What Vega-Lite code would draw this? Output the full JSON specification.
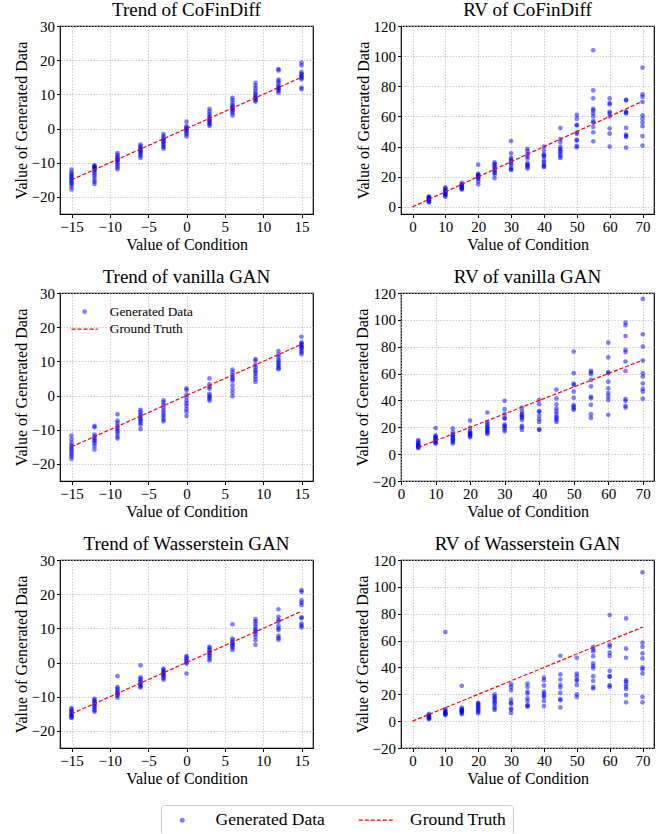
{
  "$schema": "https://vega.github.io/schema/vega-lite/v6.json",
  "padding": {"left": 12, "top": 0, "right": 8, "bottom": 0},
  "config": {
    "font": "Liberation Serif",
    "view": {"stroke": "black", "strokeWidth": 1.2},
    "axis": {
      "labelFont": "Liberation Serif", "labelFontSize": 15, "labelColor": "black",
      "titleFont": "Liberation Serif", "titleFontSize": 16, "titleFontWeight": "normal", "titleColor": "black",
      "domain": false, "tickColor": "black", "tickSize": 3.5, "tickWidth": 1,
      "gridColor": "#c0c0c0", "gridDash": [1.5, 1.5], "gridWidth": 0.8,
      "labelPadding": 2, "labelFlush": false, "labelOverlap": false, "titlePadding": 2, "tickCount": 30
    },
    "title": {"font": "Liberation Serif", "fontSize": 19, "fontWeight": "normal", "color": "black", "offset": -1},
    "legend": {"labelFont": "Liberation Serif", "labelColor": "black"}
  },
  "datasets": {
    "gt_trend": [{"c": -15, "v": -15}, {"c": 15, "v": 15}],
    "gt_rv": [{"c": 0, "v": 0}, {"c": 70, "v": 70}],
    "gt_rv5": [{"c": 5, "v": 5}, {"c": 70, "v": 70}],
    "t1": [
      {"c":-15,"v":-12},{"c":-15,"v":-12.8},{"c":-15,"v":-13.3},{"c":-15,"v":-13.8},{"c":-15,"v":-14.2},{"c":-15,"v":-14.6},{"c":-15,"v":-15},{"c":-15,"v":-15.4},{"c":-15,"v":-15.9},{"c":-15,"v":-16.3},{"c":-15,"v":-17},{"c":-15,"v":-17.8},
      {"c":-12,"v":-10.8},{"c":-12,"v":-11},{"c":-12,"v":-11.2},{"c":-12,"v":-11.5},{"c":-12,"v":-11.8},{"c":-12,"v":-12},{"c":-12,"v":-12.5},{"c":-12,"v":-13},{"c":-12,"v":-13.6},{"c":-12,"v":-14.2},{"c":-12,"v":-15},{"c":-12,"v":-15.6},{"c":-12,"v":-16.2},
      {"c":-9,"v":-7.2},{"c":-9,"v":-7.8},{"c":-9,"v":-8.3},{"c":-9,"v":-8.7},{"c":-9,"v":-9},{"c":-9,"v":-9.3},{"c":-9,"v":-9.7},{"c":-9,"v":-10.2},{"c":-9,"v":-10.8},{"c":-9,"v":-11.3},{"c":-9,"v":-11.9},
      {"c":-6,"v":-4.7},{"c":-6,"v":-5.2},{"c":-6,"v":-5.6},{"c":-6,"v":-6},{"c":-6,"v":-6.3},{"c":-6,"v":-6.7},{"c":-6,"v":-7},{"c":-6,"v":-7.5},{"c":-6,"v":-8},{"c":-6,"v":-8.6},
      {"c":-3,"v":-1.6},{"c":-3,"v":-2.2},{"c":-3,"v":-2.8},{"c":-3,"v":-3.2},{"c":-3,"v":-3.6},{"c":-3,"v":-4},{"c":-3,"v":-4.4},{"c":-3,"v":-4.9},{"c":-3,"v":-5.4},{"c":-3,"v":-5.9},
      {"c":0,"v":2},{"c":0,"v":0.7},{"c":0,"v":0.3},{"c":0,"v":0},{"c":0,"v":-0.3},{"c":0,"v":-0.7},{"c":0,"v":-1.2},{"c":0,"v":-1.7},{"c":0,"v":-2.3},
      {"c":3,"v":5.8},{"c":3,"v":5},{"c":3,"v":4.3},{"c":3,"v":3.7},{"c":3,"v":3.2},{"c":3,"v":2.8},{"c":3,"v":2.4},{"c":3,"v":2},{"c":3,"v":1.6},{"c":3,"v":1.2},{"c":3,"v":0.8},
      {"c":6,"v":9},{"c":6,"v":8.3},{"c":6,"v":7.5},{"c":6,"v":6.8},{"c":6,"v":6.4},{"c":6,"v":6.1},{"c":6,"v":5.8},{"c":6,"v":5.5},{"c":6,"v":5},{"c":6,"v":4.5},{"c":6,"v":3.8},
      {"c":9,"v":13.4},{"c":9,"v":12.6},{"c":9,"v":11.8},{"c":9,"v":11},{"c":9,"v":10.3},{"c":9,"v":9.8},{"c":9,"v":9.3},{"c":9,"v":9},{"c":9,"v":8.7},{"c":9,"v":8.3},{"c":9,"v":7.9},
      {"c":12,"v":17.4},{"c":12,"v":17},{"c":12,"v":14.3},{"c":12,"v":13.8},{"c":12,"v":13.2},{"c":12,"v":12.5},{"c":12,"v":12},{"c":12,"v":11.8},{"c":12,"v":11.4},{"c":12,"v":11},{"c":12,"v":10.5},
      {"c":15,"v":19.3},{"c":15,"v":18.5},{"c":15,"v":16.5},{"c":15,"v":16},{"c":15,"v":15.6},{"c":15,"v":15.2},{"c":15,"v":14.8},{"c":15,"v":14.4},{"c":15,"v":12},{"c":15,"v":11.5}
    ],
    "r1": [
      {"c":5,"v":3},{"c":5,"v":3.5},{"c":5,"v":4},{"c":5,"v":4.5},{"c":5,"v":5},{"c":5,"v":5.3},{"c":5,"v":5.6},{"c":5,"v":6},{"c":5,"v":6.5},{"c":5,"v":7},
      {"c":10,"v":6.8},{"c":10,"v":7.5},{"c":10,"v":8.2},{"c":10,"v":8.8},{"c":10,"v":9.3},{"c":10,"v":10},{"c":10,"v":10.6},{"c":10,"v":11.3},{"c":10,"v":12.2},{"c":10,"v":13},
      {"c":15,"v":11.5},{"c":15,"v":12},{"c":15,"v":12.5},{"c":15,"v":13},{"c":15,"v":13.5},{"c":15,"v":14},{"c":15,"v":14.5},{"c":15,"v":15},{"c":15,"v":16},
      {"c":20,"v":15},{"c":20,"v":17},{"c":20,"v":18.5},{"c":20,"v":19.5},{"c":20,"v":20},{"c":20,"v":20.5},{"c":20,"v":21},{"c":20,"v":21.5},{"c":20,"v":22},{"c":20,"v":28},
      {"c":25,"v":19},{"c":25,"v":21.5},{"c":25,"v":22.5},{"c":25,"v":23.5},{"c":25,"v":24.5},{"c":25,"v":25.5},{"c":25,"v":26.5},{"c":25,"v":27.5},{"c":25,"v":28.5},{"c":25,"v":29.5},
      {"c":30,"v":43.7},{"c":30,"v":35.5},{"c":30,"v":32.5},{"c":30,"v":31.5},{"c":30,"v":30.5},{"c":30,"v":29},{"c":30,"v":28},{"c":30,"v":26},{"c":30,"v":25},{"c":30,"v":24.5},
      {"c":35,"v":38.5},{"c":35,"v":37},{"c":35,"v":35},{"c":35,"v":33.5},{"c":35,"v":32},{"c":35,"v":29},{"c":35,"v":28},{"c":35,"v":27.5},{"c":35,"v":26.5},{"c":35,"v":25.5},
      {"c":40,"v":40},{"c":40,"v":37.5},{"c":40,"v":35},{"c":40,"v":34},{"c":40,"v":33.5},{"c":40,"v":31},{"c":40,"v":29.5},{"c":40,"v":28},{"c":40,"v":27},{"c":40,"v":26.5},
      {"c":45,"v":52.3},{"c":45,"v":45},{"c":45,"v":43},{"c":45,"v":40},{"c":45,"v":38.5},{"c":45,"v":37.5},{"c":45,"v":36.5},{"c":45,"v":35},{"c":45,"v":33.5},{"c":45,"v":32.5},
      {"c":50,"v":61},{"c":50,"v":58.5},{"c":50,"v":54.5},{"c":50,"v":54},{"c":50,"v":49.5},{"c":50,"v":48.5},{"c":50,"v":44.5},{"c":50,"v":44},{"c":50,"v":40.5},{"c":50,"v":39.5},
      {"c":55,"v":103.9},{"c":55,"v":77.3},{"c":55,"v":72},{"c":55,"v":65},{"c":55,"v":64},{"c":55,"v":62},{"c":55,"v":60},{"c":55,"v":57},{"c":55,"v":56},{"c":55,"v":53},{"c":55,"v":49.5},{"c":55,"v":43.5},
      {"c":60,"v":72},{"c":60,"v":69},{"c":60,"v":68},{"c":60,"v":63},{"c":60,"v":62},{"c":60,"v":60},{"c":60,"v":52},{"c":60,"v":48.6},{"c":60,"v":40},
      {"c":65,"v":71},{"c":65,"v":70.7},{"c":65,"v":63.4},{"c":65,"v":62.5},{"c":65,"v":62},{"c":65,"v":52.4},{"c":65,"v":48},{"c":65,"v":47},{"c":65,"v":46.4},{"c":65,"v":39.3},
      {"c":70,"v":92.4},{"c":70,"v":74.7},{"c":70,"v":73},{"c":70,"v":69.6},{"c":70,"v":60.8},{"c":70,"v":58.5},{"c":70,"v":56},{"c":70,"v":53.5},{"c":70,"v":47},{"c":70,"v":40.7}
    ],
    "t2": [
      {"c":-15,"v":-11.7},{"c":-15,"v":-12.8},{"c":-15,"v":-13.8},{"c":-15,"v":-14.5},{"c":-15,"v":-15},{"c":-15,"v":-15.5},{"c":-15,"v":-16},{"c":-15,"v":-16.6},{"c":-15,"v":-17.2},{"c":-15,"v":-17.8},{"c":-15,"v":-18.5},
      {"c":-12,"v":-8.9},{"c":-12,"v":-9.3},{"c":-12,"v":-11.4},{"c":-12,"v":-12},{"c":-12,"v":-12.5},{"c":-12,"v":-13},{"c":-12,"v":-13.4},{"c":-12,"v":-14},{"c":-12,"v":-14.8},{"c":-12,"v":-15.8},
      {"c":-9,"v":-5.5},{"c":-9,"v":-7.3},{"c":-9,"v":-8},{"c":-9,"v":-8.8},{"c":-9,"v":-9.4},{"c":-9,"v":-10},{"c":-9,"v":-10.5},{"c":-9,"v":-11.2},{"c":-9,"v":-12},{"c":-9,"v":-12.6},
      {"c":-6,"v":-4.2},{"c":-6,"v":-4.8},{"c":-6,"v":-5.5},{"c":-6,"v":-6},{"c":-6,"v":-6.5},{"c":-6,"v":-7},{"c":-6,"v":-7.4},{"c":-6,"v":-8},{"c":-6,"v":-8.6},{"c":-6,"v":-9.8},
      {"c":-3,"v":-1.4},{"c":-3,"v":-2},{"c":-3,"v":-2.8},{"c":-3,"v":-3.5},{"c":-3,"v":-4.3},{"c":-3,"v":-5},{"c":-3,"v":-5.7},{"c":-3,"v":-6.3},{"c":-3,"v":-7},{"c":-3,"v":-7.6},
      {"c":0,"v":2.1},{"c":0,"v":1.6},{"c":0,"v":0.3},{"c":0,"v":-0.5},{"c":0,"v":-1.5},{"c":0,"v":-2.3},{"c":0,"v":-3},{"c":0,"v":-4},{"c":0,"v":-4.8},{"c":0,"v":-6},
      {"c":3,"v":5},{"c":3,"v":3.3},{"c":3,"v":2.5},{"c":3,"v":2},{"c":3,"v":0.5},{"c":3,"v":0},{"c":3,"v":-0.5},{"c":3,"v":-1},{"c":3,"v":-1.5},
      {"c":6,"v":7.6},{"c":6,"v":6.8},{"c":6,"v":6},{"c":6,"v":5.3},{"c":6,"v":4.8},{"c":6,"v":4.3},{"c":6,"v":3},{"c":6,"v":1.8},{"c":6,"v":0.8},{"c":6,"v":-0.2},
      {"c":9,"v":10.7},{"c":9,"v":10.2},{"c":9,"v":9},{"c":9,"v":8.3},{"c":9,"v":7.5},{"c":9,"v":7},{"c":9,"v":6.4},{"c":9,"v":5.6},{"c":9,"v":4.8},{"c":9,"v":4},
      {"c":12,"v":13},{"c":12,"v":12},{"c":12,"v":11.3},{"c":12,"v":10.5},{"c":12,"v":10},{"c":12,"v":9.5},{"c":12,"v":9},{"c":12,"v":8.5},{"c":12,"v":8},{"c":12,"v":7.7},
      {"c":15,"v":17.2},{"c":15,"v":15.6},{"c":15,"v":15.2},{"c":15,"v":14.8},{"c":15,"v":14.5},{"c":15,"v":14.1},{"c":15,"v":13.8},{"c":15,"v":13.2},{"c":15,"v":12.7},{"c":15,"v":12.1}
    ],
    "r2": [
      {"c":5,"v":4.5},{"c":5,"v":5},{"c":5,"v":5.5},{"c":5,"v":6},{"c":5,"v":6.5},{"c":5,"v":7},{"c":5,"v":7.5},{"c":5,"v":8.5},{"c":5,"v":9.5},{"c":5,"v":10.5},
      {"c":10,"v":19.4},{"c":10,"v":14},{"c":10,"v":13},{"c":10,"v":12.5},{"c":10,"v":11.5},{"c":10,"v":11},{"c":10,"v":10},{"c":10,"v":9.3},{"c":10,"v":8.5},{"c":10,"v":7.8},
      {"c":15,"v":19.3},{"c":15,"v":16.5},{"c":15,"v":15},{"c":15,"v":14},{"c":15,"v":13},{"c":15,"v":12},{"c":15,"v":11},{"c":15,"v":10},{"c":15,"v":9},{"c":15,"v":8},
      {"c":20,"v":25},{"c":20,"v":19.5},{"c":20,"v":17},{"c":20,"v":16},{"c":20,"v":15.5},{"c":20,"v":15},{"c":20,"v":14},{"c":20,"v":13.5},{"c":20,"v":12.5},
      {"c":25,"v":31},{"c":25,"v":24},{"c":25,"v":22.5},{"c":25,"v":21},{"c":25,"v":20},{"c":25,"v":19},{"c":25,"v":18},{"c":25,"v":17},{"c":25,"v":16},{"c":25,"v":15},
      {"c":30,"v":39.7},{"c":30,"v":33.5},{"c":30,"v":30},{"c":30,"v":27},{"c":30,"v":26.5},{"c":30,"v":22},{"c":30,"v":21},{"c":30,"v":20},{"c":30,"v":18.5},{"c":30,"v":17},
      {"c":35,"v":34.7},{"c":35,"v":32},{"c":35,"v":30},{"c":35,"v":29},{"c":35,"v":28},{"c":35,"v":27},{"c":35,"v":25.5},{"c":35,"v":21},{"c":35,"v":20},{"c":35,"v":18},
      {"c":40,"v":40.5},{"c":40,"v":37.2},{"c":40,"v":32},{"c":40,"v":31.5},{"c":40,"v":28.5},{"c":40,"v":26},{"c":40,"v":24},{"c":40,"v":18.5},{"c":40,"v":18},
      {"c":45,"v":48},{"c":45,"v":41.5},{"c":45,"v":37},{"c":45,"v":34},{"c":45,"v":32},{"c":45,"v":30},{"c":45,"v":28},{"c":45,"v":27},{"c":45,"v":25.5},{"c":45,"v":24},
      {"c":50,"v":76.4},{"c":50,"v":60.3},{"c":50,"v":52.5},{"c":50,"v":51.5},{"c":50,"v":46.6},{"c":50,"v":42},{"c":50,"v":36.5},{"c":50,"v":35.5},{"c":50,"v":34},{"c":50,"v":33},
      {"c":55,"v":62},{"c":55,"v":61},{"c":55,"v":59.5},{"c":55,"v":55.3},{"c":55,"v":50.4},{"c":55,"v":42.7},{"c":55,"v":41.7},{"c":55,"v":36.7},{"c":55,"v":29.8},{"c":55,"v":27},
      {"c":60,"v":83},{"c":60,"v":72},{"c":60,"v":61},{"c":60,"v":60.5},{"c":60,"v":54},{"c":60,"v":49},{"c":60,"v":45.4},{"c":60,"v":43},{"c":60,"v":40.4},{"c":60,"v":29.3},
      {"c":65,"v":98},{"c":65,"v":96},{"c":65,"v":88},{"c":65,"v":77.7},{"c":65,"v":76},{"c":65,"v":69},{"c":65,"v":62},{"c":65,"v":41},{"c":65,"v":39.7},{"c":65,"v":36},{"c":65,"v":34.7},
      {"c":70,"v":115.6},{"c":70,"v":89.3},{"c":70,"v":80},{"c":70,"v":69.7},{"c":70,"v":60.3},{"c":70,"v":57.8},{"c":70,"v":52.6},{"c":70,"v":48.6},{"c":70,"v":46.6},{"c":70,"v":41.2}
    ],
    "t3": [
      {"c":-15,"v":-13.3},{"c":-15,"v":-13.8},{"c":-15,"v":-14.2},{"c":-15,"v":-14.6},{"c":-15,"v":-15},{"c":-15,"v":-15.3},{"c":-15,"v":-15.6},{"c":-15,"v":-16},{"c":-15,"v":-16.2},
      {"c":-12,"v":-10.6},{"c":-12,"v":-11},{"c":-12,"v":-11.4},{"c":-12,"v":-11.8},{"c":-12,"v":-12.2},{"c":-12,"v":-12.6},{"c":-12,"v":-13},{"c":-12,"v":-13.5},{"c":-12,"v":-14},{"c":-12,"v":-14.4},
      {"c":-9,"v":-4},{"c":-9,"v":-7.2},{"c":-9,"v":-7.7},{"c":-9,"v":-8.2},{"c":-9,"v":-8.7},{"c":-9,"v":-9},{"c":-9,"v":-9.3},{"c":-9,"v":-9.7},{"c":-9,"v":-10.3},
      {"c":-6,"v":-0.8},{"c":-6,"v":-4.3},{"c":-6,"v":-4.8},{"c":-6,"v":-5.3},{"c":-6,"v":-5.8},{"c":-6,"v":-6.2},{"c":-6,"v":-6.6},{"c":-6,"v":-7},{"c":-6,"v":-7.3},
      {"c":-3,"v":-1.8},{"c":-3,"v":-2.2},{"c":-3,"v":-2.6},{"c":-3,"v":-3},{"c":-3,"v":-3.3},{"c":-3,"v":-3.7},{"c":-3,"v":-4.1},{"c":-3,"v":-4.6},{"c":-3,"v":-5},
      {"c":0,"v":1.9},{"c":0,"v":1.5},{"c":0,"v":1},{"c":0,"v":0.5},{"c":0,"v":0},{"c":0,"v":-0.3},{"c":0,"v":-3.2},
      {"c":3,"v":4.6},{"c":3,"v":4.2},{"c":3,"v":3.6},{"c":3,"v":3.2},{"c":3,"v":2.8},{"c":3,"v":2.3},{"c":3,"v":1.8},{"c":3,"v":1.2},{"c":3,"v":0.6},
      {"c":6,"v":11.2},{"c":6,"v":7},{"c":6,"v":6.5},{"c":6,"v":6},{"c":6,"v":5.6},{"c":6,"v":5.2},{"c":6,"v":4.8},{"c":6,"v":4.3},{"c":6,"v":3.7},
      {"c":9,"v":12.7},{"c":9,"v":12},{"c":9,"v":11.3},{"c":9,"v":10.5},{"c":9,"v":9.8},{"c":9,"v":9.3},{"c":9,"v":9},{"c":9,"v":8.3},{"c":9,"v":7.5},{"c":9,"v":6.5},{"c":9,"v":5.2},
      {"c":12,"v":15.6},{"c":12,"v":13.4},{"c":12,"v":12.5},{"c":12,"v":12},{"c":12,"v":10.8},{"c":12,"v":10},{"c":12,"v":9.5},{"c":12,"v":7.8},{"c":12,"v":7.2},{"c":12,"v":6.7},
      {"c":15,"v":21.2},{"c":15,"v":20.7},{"c":15,"v":18.2},{"c":15,"v":17.5},{"c":15,"v":16.8},{"c":15,"v":13.2},{"c":15,"v":13},{"c":15,"v":11.4},{"c":15,"v":10.8},{"c":15,"v":10.3}
    ],
    "r3": [
      {"c":5,"v":1.5},{"c":5,"v":2},{"c":5,"v":2.5},{"c":5,"v":3},{"c":5,"v":3.5},{"c":5,"v":4},{"c":5,"v":4.5},{"c":5,"v":5.5},
      {"c":10,"v":66.3},{"c":10,"v":9},{"c":10,"v":8},{"c":10,"v":7},{"c":10,"v":6.5},{"c":10,"v":6},{"c":10,"v":5.5},{"c":10,"v":5},{"c":10,"v":4.5},
      {"c":15,"v":26.3},{"c":15,"v":10},{"c":15,"v":9},{"c":15,"v":8.5},{"c":15,"v":8},{"c":15,"v":7.5},{"c":15,"v":7},{"c":15,"v":6},{"c":15,"v":5.2},
      {"c":20,"v":13.7},{"c":20,"v":13},{"c":20,"v":12},{"c":20,"v":11},{"c":20,"v":10},{"c":20,"v":9},{"c":20,"v":8},{"c":20,"v":7},{"c":20,"v":5.8},
      {"c":25,"v":20},{"c":25,"v":18.5},{"c":25,"v":17.5},{"c":25,"v":16.5},{"c":25,"v":15},{"c":25,"v":14},{"c":25,"v":13},{"c":25,"v":11},{"c":25,"v":9.5},{"c":25,"v":8.3},
      {"c":30,"v":27.5},{"c":30,"v":25.5},{"c":30,"v":23},{"c":30,"v":16},{"c":30,"v":13.5},{"c":30,"v":13},{"c":30,"v":9.5},{"c":30,"v":8.5},{"c":30,"v":6},
      {"c":35,"v":28},{"c":35,"v":25.5},{"c":35,"v":22},{"c":35,"v":20.5},{"c":35,"v":17},{"c":35,"v":15},{"c":35,"v":12},{"c":35,"v":11.5},{"c":35,"v":10.7},
      {"c":40,"v":32.5},{"c":40,"v":30.5},{"c":40,"v":26.5},{"c":40,"v":22},{"c":40,"v":20.5},{"c":40,"v":19},{"c":40,"v":18},{"c":40,"v":15},{"c":40,"v":11.2},
      {"c":45,"v":48.7},{"c":45,"v":34.8},{"c":45,"v":31},{"c":45,"v":27},{"c":45,"v":25},{"c":45,"v":21},{"c":45,"v":16.5},{"c":45,"v":15.5},{"c":45,"v":10.2},
      {"c":50,"v":47.2},{"c":50,"v":35.5},{"c":50,"v":33.5},{"c":50,"v":31},{"c":50,"v":30},{"c":50,"v":27},{"c":50,"v":20},{"c":50,"v":18},
      {"c":55,"v":55.4},{"c":55,"v":53.4},{"c":55,"v":52},{"c":55,"v":48.4},{"c":55,"v":43},{"c":55,"v":41},{"c":55,"v":39.3},{"c":55,"v":33.5},{"c":55,"v":30},{"c":55,"v":25.5},{"c":55,"v":24.3},
      {"c":60,"v":79},{"c":60,"v":57},{"c":60,"v":55.5},{"c":60,"v":51},{"c":60,"v":48.5},{"c":60,"v":37.5},{"c":60,"v":33.5},{"c":60,"v":33},{"c":60,"v":26.8},{"c":60,"v":25.5},
      {"c":65,"v":76.5},{"c":65,"v":54},{"c":65,"v":47.2},{"c":65,"v":30.5},{"c":65,"v":29.5},{"c":65,"v":27.5},{"c":65,"v":25.5},{"c":65,"v":24},{"c":65,"v":19.4},{"c":65,"v":14},
      {"c":70,"v":110.8},{"c":70,"v":58.4},{"c":70,"v":55.4},{"c":70,"v":50.4},{"c":70,"v":46.7},{"c":70,"v":40},{"c":70,"v":38.5},{"c":70,"v":35.5},{"c":70,"v":18.1},{"c":70,"v":14}
    ]
  },
  "columns": 2,
  "spacing": {"row": 79, "column": 88},
  "bounds": "flush",
  "resolve": {
    "scale": {"fill": "independent", "stroke": "independent", "shape": "independent", "strokeDash": "independent"},
    "legend": {"fill": "independent", "stroke": "independent", "shape": "independent", "strokeDash": "independent"}
  },
  "concat": [
    {
      "width": 253, "height": 188, "title": "Trend of CoFinDiff",
      "layer": [
        {"data": {"name": "t1"}, "mark": {"type": "point", "filled": true, "size": 22, "opacity": 1, "color": "rgba(0,0,255,0.5)"},
         "encoding": {
           "x": {"field": "c", "type": "quantitative", "scale": {"domain": [-16.5, 16.5], "nice": false, "zero": false}, "axis": {"values": [-15, -10, -5, 0, 5, 10, 15], "tickCount": 30, "labelOverlap": false, "title": "Value of Condition"}},
           "y": {"field": "v", "type": "quantitative", "scale": {"domain": [-25, 30], "nice": false, "zero": false}, "axis": {"values": [-20, -10, 0, 10, 20, 30], "tickCount": 30, "labelOverlap": false, "title": "Value of Generated Data"}}}},
        {"data": {"name": "gt_trend"}, "mark": {"type": "line", "color": "red", "strokeDash": [4, 2], "strokeWidth": 1.2},
         "encoding": {"x": {"field": "c", "type": "quantitative"}, "y": {"field": "v", "type": "quantitative"}}}
      ]
    },
    {
      "width": 253, "height": 188, "title": "RV of CoFinDiff",
      "layer": [
        {"data": {"name": "r1"}, "mark": {"type": "point", "filled": true, "size": 22, "opacity": 1, "color": "rgba(0,0,255,0.5)"},
         "encoding": {
           "x": {"field": "c", "type": "quantitative", "scale": {"domain": [-3.5, 73.5], "nice": false, "zero": false}, "axis": {"values": [0, 10, 20, 30, 40, 50, 60, 70], "tickCount": 30, "labelOverlap": false, "title": "Value of Condition"}},
           "y": {"field": "v", "type": "quantitative", "scale": {"domain": [-4.7, 120], "nice": false, "zero": false}, "axis": {"values": [0, 20, 40, 60, 80, 100, 120], "tickCount": 30, "labelOverlap": false, "title": "Value of Generated Data"}}}},
        {"data": {"name": "gt_rv"}, "mark": {"type": "line", "color": "red", "strokeDash": [4, 2], "strokeWidth": 1.2},
         "encoding": {"x": {"field": "c", "type": "quantitative"}, "y": {"field": "v", "type": "quantitative"}}}
      ]
    },
    {
      "width": 253, "height": 188, "title": "Trend of vanilla GAN",
      "layer": [
        {"data": {"name": "t2"}, "mark": {"type": "point", "filled": true, "size": 22, "opacity": 1},
         "encoding": {
           "x": {"field": "c", "type": "quantitative", "scale": {"domain": [-16.5, 16.5], "nice": false, "zero": false}, "axis": {"values": [-15, -10, -5, 0, 5, 10, 15], "tickCount": 30, "labelOverlap": false, "title": "Value of Condition"}},
           "y": {"field": "v", "type": "quantitative", "scale": {"domain": [-25, 30], "nice": false, "zero": false}, "axis": {"values": [-20, -10, 0, 10, 20, 30], "tickCount": 30, "labelOverlap": false, "title": "Value of Generated Data"}},
           "fill": {"datum": "Generated Data", "type": "nominal", "scale": {"domain": ["Generated Data", "Ground Truth"], "range": ["rgba(0,0,255,0.5)", "rgba(0,0,0,0)"]},
                    "legend": {"title": null, "orient": "none", "legendX": 10, "legendY": 12, "symbolSize": 22, "labelFontSize": 13.3, "labelOffset": 18.5, "symbolOffset": 8, "padding": 0, "rowPadding": 3.5, "symbolStrokeWidth": 1.2}},
           "shape": {"datum": "Generated Data", "type": "nominal", "scale": {"domain": ["Generated Data", "Ground Truth"], "range": ["circle", "M-5.6,0H5.6"]},
                    "legend": {"title": null, "orient": "none", "legendX": 10, "legendY": 12, "symbolSize": 22, "labelFontSize": 13.3, "labelOffset": 18.5, "symbolOffset": 8, "padding": 0, "rowPadding": 3.5, "symbolStrokeWidth": 1.2}}}},
        {"data": {"name": "gt_trend"}, "mark": {"type": "line", "strokeWidth": 1.2},
         "encoding": {"x": {"field": "c", "type": "quantitative"}, "y": {"field": "v", "type": "quantitative"},
           "stroke": {"datum": "Ground Truth", "type": "nominal", "scale": {"domain": ["Generated Data", "Ground Truth"], "range": ["rgba(0,0,0,0)", "red"]},
                    "legend": {"title": null, "orient": "none", "legendX": 10, "legendY": 12, "symbolSize": 22, "labelFontSize": 13.3, "labelOffset": 18.5, "symbolOffset": 8, "padding": 0, "rowPadding": 3.5, "symbolStrokeWidth": 1.2}},
           "strokeDash": {"datum": "Ground Truth", "type": "nominal", "scale": {"domain": ["Generated Data", "Ground Truth"], "range": [[1, 0], [4, 2]]},
                    "legend": {"title": null, "orient": "none", "legendX": 10, "legendY": 12, "symbolSize": 22, "labelFontSize": 13.3, "labelOffset": 18.5, "symbolOffset": 8, "padding": 0, "rowPadding": 3.5, "symbolStrokeWidth": 1.2}}}}
      ]
    },
    {
      "width": 253, "height": 188, "title": "RV of vanilla GAN",
      "layer": [
        {"data": {"name": "r2"}, "mark": {"type": "point", "filled": true, "size": 22, "opacity": 1},
         "encoding": {
           "x": {"field": "c", "type": "quantitative", "scale": {"domain": [0, 73.25], "nice": false, "zero": false}, "axis": {"values": [0, 10, 20, 30, 40, 50, 60, 70], "tickCount": 30, "labelOverlap": false, "title": "Value of Condition"}},
           "y": {"field": "v", "type": "quantitative", "scale": {"domain": [-20, 120], "nice": false, "zero": false}, "axis": {"values": [-20, 0, 20, 40, 60, 80, 100, 120], "tickCount": 30, "labelOverlap": false, "title": "Value of Generated Data"}},
           "fill": {"datum": "Generated Data", "type": "nominal", "scale": {"domain": ["Generated Data", "Ground Truth"], "range": ["rgba(0,0,255,0.5)", "rgba(0,0,0,0)"]},
                    "legend": {"title": null, "orient": "none", "legendX": -240, "legendY": 512, "direction": "horizontal", "symbolSize": 25, "labelFontSize": 17.5, "labelOffset": 24.5, "symbolOffset": 6.5, "padding": 6, "strokeColor": "#cccccc", "fillColor": "white", "cornerRadius": 3, "columnPadding": 30.5, "symbolStrokeWidth": 1.3}},
           "shape": {"datum": "Generated Data", "type": "nominal", "scale": {"domain": ["Generated Data", "Ground Truth"], "range": ["circle", "M-7.2,0H7.2"]},
                    "legend": {"title": null, "orient": "none", "legendX": -240, "legendY": 512, "direction": "horizontal", "symbolSize": 25, "labelFontSize": 17.5, "labelOffset": 24.5, "symbolOffset": 6.5, "padding": 6, "strokeColor": "#cccccc", "fillColor": "white", "cornerRadius": 3, "columnPadding": 30.5, "symbolStrokeWidth": 1.3}}}},
        {"data": {"name": "gt_rv5"}, "mark": {"type": "line", "strokeWidth": 1.2},
         "encoding": {"x": {"field": "c", "type": "quantitative"}, "y": {"field": "v", "type": "quantitative"},
           "stroke": {"datum": "Ground Truth", "type": "nominal", "scale": {"domain": ["Generated Data", "Ground Truth"], "range": ["rgba(0,0,0,0)", "red"]},
                    "legend": {"title": null, "orient": "none", "legendX": -240, "legendY": 512, "direction": "horizontal", "symbolSize": 25, "labelFontSize": 17.5, "labelOffset": 24.5, "symbolOffset": 6.5, "padding": 6, "strokeColor": "#cccccc", "fillColor": "white", "cornerRadius": 3, "columnPadding": 30.5, "symbolStrokeWidth": 1.3}},
           "strokeDash": {"datum": "Ground Truth", "type": "nominal", "scale": {"domain": ["Generated Data", "Ground Truth"], "range": [[1, 0], [4, 2]]},
                    "legend": {"title": null, "orient": "none", "legendX": -240, "legendY": 512, "direction": "horizontal", "symbolSize": 25, "labelFontSize": 17.5, "labelOffset": 24.5, "symbolOffset": 6.5, "padding": 6, "strokeColor": "#cccccc", "fillColor": "white", "cornerRadius": 3, "columnPadding": 30.5, "symbolStrokeWidth": 1.3}}}}
      ]
    },
    {
      "width": 253, "height": 188, "title": "Trend of Wasserstein GAN",
      "layer": [
        {"data": {"name": "t3"}, "mark": {"type": "point", "filled": true, "size": 22, "opacity": 1, "color": "rgba(0,0,255,0.5)"},
         "encoding": {
           "x": {"field": "c", "type": "quantitative", "scale": {"domain": [-16.5, 16.5], "nice": false, "zero": false}, "axis": {"values": [-15, -10, -5, 0, 5, 10, 15], "tickCount": 30, "labelOverlap": false, "title": "Value of Condition"}},
           "y": {"field": "v", "type": "quantitative", "scale": {"domain": [-25, 30], "nice": false, "zero": false}, "axis": {"values": [-20, -10, 0, 10, 20, 30], "tickCount": 30, "labelOverlap": false, "title": "Value of Generated Data"}}}},
        {"data": {"name": "gt_trend"}, "mark": {"type": "line", "color": "red", "strokeDash": [4, 2], "strokeWidth": 1.2},
         "encoding": {"x": {"field": "c", "type": "quantitative"}, "y": {"field": "v", "type": "quantitative"}}}
      ]
    },
    {
      "width": 253, "height": 188, "title": "RV of Wasserstein GAN",
      "layer": [
        {"data": {"name": "r3"}, "mark": {"type": "point", "filled": true, "size": 22, "opacity": 1, "color": "rgba(0,0,255,0.5)"},
         "encoding": {
           "x": {"field": "c", "type": "quantitative", "scale": {"domain": [-3.5, 73.5], "nice": false, "zero": false}, "axis": {"values": [0, 10, 20, 30, 40, 50, 60, 70], "tickCount": 30, "labelOverlap": false, "title": "Value of Condition"}},
           "y": {"field": "v", "type": "quantitative", "scale": {"domain": [-20, 120], "nice": false, "zero": false}, "axis": {"values": [-20, 0, 20, 40, 60, 80, 100, 120], "tickCount": 30, "labelOverlap": false, "title": "Value of Generated Data"}}}},
        {"data": {"name": "gt_rv"}, "mark": {"type": "line", "color": "red", "strokeDash": [4, 2], "strokeWidth": 1.2},
         "encoding": {"x": {"field": "c", "type": "quantitative"}, "y": {"field": "v", "type": "quantitative"}}}
      ]
    }
  ]
}
